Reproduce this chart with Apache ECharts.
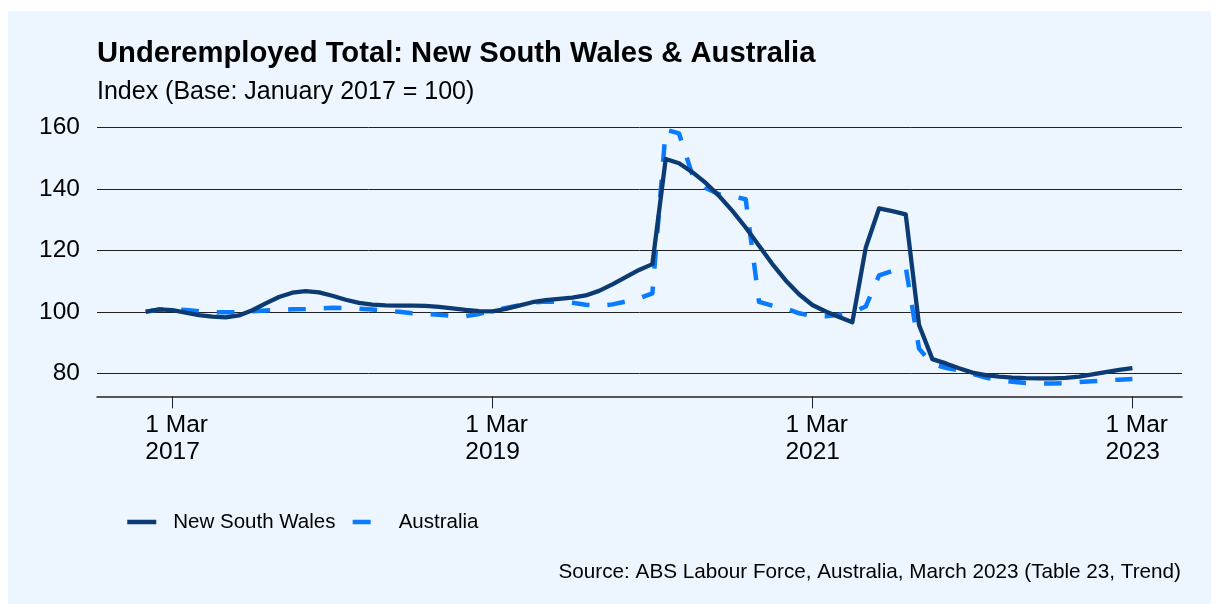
<!DOCTYPE html>
<html>
<head>
<meta charset="utf-8">
<script src="https://cdn.jsdelivr.net/npm/echarts@6/dist/echarts.min.js"></script>
<style>
  html, body { margin: 0; padding: 0; background: #ffffff; }
  #panel { position: absolute; left: 8px; top: 11px; width: 1203px; height: 593px; background: #EDF5FF; }
  #chart { position: absolute; left: 0; top: 0; width: 1224px; height: 604px; }
</style>
</head>
<body>
<div id="panel"></div>
<div id="chart"></div>
<script>
// Monthly categories: Jan 2017 .. Mar 2023
const monthNames = ['Jan','Feb','Mar','Apr','May','Jun','Jul','Aug','Sep','Oct','Nov','Dec'];
const categories = [];
for (let y = 2017; y <= 2023; y++) {
  for (let m = 0; m < 12; m++) {
    if (y === 2023 && m > 2) break;
    categories.push(monthNames[m] + ' ' + y);
  }
}

// Index values (Base: January 2017 = 100)
const nswValues = [
  100.0, 100.8, 100.5, 99.7, 98.9, 98.4, 98.2, 98.8, 100.5, 102.7, 104.8, 106.2,
  106.7, 106.3, 105.2, 103.9, 102.9, 102.3, 102.1, 102.0, 102.0, 101.9, 101.6, 101.1,
  100.6, 100.2, 100.1, 100.9, 102.0, 103.1, 103.8, 104.2, 104.6, 105.3, 106.8, 108.9,
  111.3, 113.6, 115.5, 149.7, 148.3, 145.4, 141.9, 137.7, 132.8, 127.4, 121.5, 115.5,
  110.2, 105.7, 102.2, 100.1, 98.3, 96.6, 120.8, 133.6, 132.7, 131.7, 95.7, 84.6,
  83.2, 81.6, 80.2, 79.4, 78.9, 78.6, 78.4, 78.3, 78.3, 78.5, 78.9, 79.6,
  80.4, 81.1, 81.7
];
const ausValues = [
  100.0, 100.7, 100.8, 100.6, 100.2, 99.9, 99.8, 99.9, 100.2, 100.4, 100.6, 100.8,
  100.9, 101.1, 101.3, 101.2, 101.0, 100.7, 100.4, 100.0, 99.5, 99.3, 99.0, 98.7,
  98.6, 99.3, 100.3, 101.2, 102.1, 103.0, 103.3, 103.2, 102.9, 102.3, 101.9, 102.4,
  103.3, 104.4, 106.0, 159.2, 158.0, 144.5, 140.3, 138.2, 137.6, 136.6, 103.2, 102.0,
  101.1, 99.5, 98.6, 98.5, 99.0, 99.8, 101.7, 111.8, 113.3, 114.6, 88.0, 83.0,
  81.8, 80.9, 79.8, 78.6, 77.7, 77.2, 76.8, 76.7, 76.7, 76.8, 77.1, 77.4,
  77.7, 77.9, 78.1
];

// Axis ticks
const xTickMonths = ['Mar 2017', 'Mar 2019', 'Mar 2021', 'Mar 2023'];
const xTickLabels = ['1 Mar\n2017', '1 Mar\n2019', '1 Mar\n2021', '1 Mar\n2023'];
const yTicks = [80, 100, 120, 140, 160];

const seriesNames = ['New South Wales', 'Australia'];
const colors = ['#0B3B72', '#0A7BFF'];

const xTickIdx = xTickMonths.map(m => categories.indexOf(m));
const FONT = "'Liberation Sans', Arial, Helvetica, sans-serif";

const hiddenSymbol = { opacity: 0, color: 'transparent', borderWidth: 0 };

const chart = echarts.init(document.getElementById('chart'), null, { renderer: 'canvas' });
chart.setOption({
  backgroundColor: 'transparent',
  animation: false,
  textStyle: { fontFamily: FONT, color: '#000' },
  title: [
    { text: 'Underemployed Total: New South Wales & Australia', left: 97, top: 39.5, padding: 0,
      textStyle: { fontFamily: FONT, fontSize: 29.2, fontWeight: 'bold', color: '#000' } },
    { text: 'Index (Base: January 2017 = 100)', left: 97, top: 79.5, padding: 0,
      textStyle: { fontFamily: FONT, fontSize: 25, fontWeight: 'normal', color: '#000' } },
    { text: 'Source: ABS Labour Force, Australia, March 2023 (Table 23, Trend)', right: 43, top: 562, padding: 0,
      textStyle: { fontFamily: FONT, fontSize: 20.7, fontWeight: 'normal', color: '#000' } }
  ],
  legend: {
    left: 125, top: 511.5, padding: 0,
    itemWidth: 41, itemHeight: 20, itemGap: 15,
    textStyle: { fontFamily: FONT, fontSize: 20.5, color: '#000' },
    data: [
      { name: seriesNames[0], lineStyle: { type: [29, 12], width: 4.5 }, itemStyle: hiddenSymbol },
      { name: seriesNames[1], lineStyle: { type: [18, 23], width: 4.5 }, itemStyle: hiddenSymbol }
    ]
  },
  grid: { left: 97, right: 42, top: 127.3, bottom: 207.7, containLabel: false },
  xAxis: {
    type: 'value',
    min: -3.65, max: 77.72,
    splitLine: { show: false },
    axisLine: { show: true, lineStyle: { color: '#222', width: 1.5 } },
    axisTick: { show: true, customValues: xTickIdx, length: 12, lineStyle: { color: '#222', width: 1 } },
    axisLabel: {
      customValues: xTickIdx,
      margin: 15,
      formatter: function (v) {
        const k = xTickIdx.indexOf(Math.round(v));
        if (k < 0) return '';
        const parts = xTickLabels[k].split('\n');
        return '{a|' + parts[0] + '}\n{a|' + parts[1] + '}';
      },
      rich: { a: { fontFamily: FONT, fontSize: 24.5, lineHeight: 27.5, color: '#000', width: 54, align: 'left' } }
    }
  },
  yAxis: {
    type: 'value',
    min: 72.5, max: 160,
    axisLine: { show: false },
    axisTick: { show: false, customValues: yTicks },
    axisLabel: { customValues: yTicks, fontFamily: FONT, fontSize: 24.5, color: '#000', margin: 17 },
    splitLine: { show: true, lineStyle: { color: '#222', width: 1 } }
  },
  series: [
    {
      name: seriesNames[0], type: 'line', symbol: 'none', showSymbol: false,
      data: nswValues.map((v, i) => [i, v]),
      lineStyle: { color: colors[0], width: 4.3, type: 'solid', join: 'round' },
      itemStyle: { color: colors[0] },
      z: 3
    },
    {
      name: seriesNames[1], type: 'line', symbol: 'none', showSymbol: false,
      data: ausValues.map((v, i) => [i, v]),
      lineStyle: { color: colors[1], width: 4.5, type: [17.7, 18], join: 'round' },
      itemStyle: { color: colors[1] },
      z: 2
    }
  ]
});
</script>
</body>
</html>
